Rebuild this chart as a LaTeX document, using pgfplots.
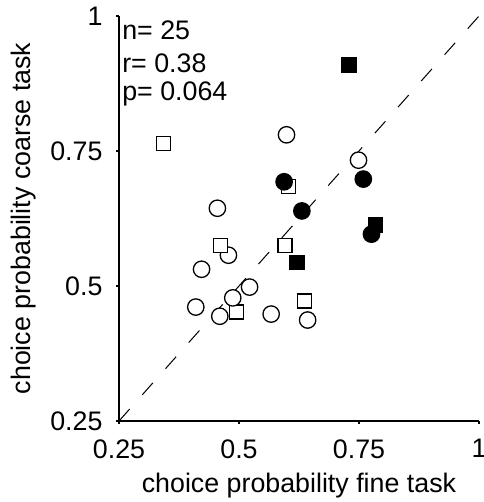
\documentclass[border=0pt]{standalone}
\usepackage{pgfplots}
\pgfplotsset{compat=1.18}
\usepackage{fontspec}
\setmainfont{Liberation Sans}
\begin{document}
\fontsize{13.4}{16}\selectfont
\begin{tikzpicture}
\begin{axis}[
  at={(0,0)}, anchor=south west,
  width=180pt, height=202.5pt, scale only axis,
  xmin=0.25, xmax=1, ymin=0.25, ymax=1,
  axis x line*=bottom, axis y line*=left,
  axis line style={line width=0.8pt, -},
  xtick={0.25,0.5,0.75,1}, ytick={0.25,0.5,0.75,1},
  xticklabels={0.25,0.5,0.75,1}, yticklabels={0.25,0.5,0.75,1},
  tick align=outside, major tick length=1.6pt,
  tick style={black, line width=0.7pt},
  every tick label/.append style={font=\fontsize{13.4}{16}\selectfont},
  xticklabel style={yshift=-3pt},
  yticklabel style={xshift=-2pt},
  /pgf/number format/assume math mode=true,
  xlabel={choice probability fine task},
  ylabel={choice probability coarse task},
  label style={font=\fontsize{13.4}{16}\selectfont},
  xlabel style={yshift=2pt},
  ylabel style={yshift=-2pt},
  clip=false,
]
\addplot[black, line width=0.5pt, dash pattern=on 8pt off 9.5pt] coordinates {(0.25,0.25) (1,1)};
% open circles
\addplot[only marks, mark=*, mark size=4.1pt, mark options={draw=black, fill=white, line width=0.65pt}] coordinates {
(0.599,0.780) (0.749,0.733) (0.455,0.644) (0.478,0.557) (0.422,0.531)
(0.522,0.498) (0.410,0.461) (0.460,0.444) (0.567,0.448) (0.643,0.437)
};
% open squares
\addplot[only marks, mark=square*, mark size=3.5pt, mark options={draw=black, fill=white, line width=0.65pt}] coordinates {
(0.342,0.764) (0.603,0.684) (0.462,0.575) (0.596,0.575) (0.636,0.472) (0.495,0.452)
};
\addplot[only marks, mark=*, mark size=4.1pt, mark options={draw=black, fill=white, line width=0.65pt}] coordinates {
(0.487,0.478)
};
% filled squares
\addplot[only marks, mark=square*, mark size=3.5pt, mark options={draw=black, fill=black, line width=0.65pt}] coordinates {
(0.729,0.909) (0.785,0.613) (0.621,0.544)
};
% filled circles
\addplot[only marks, mark=*, mark size=4.1pt, mark options={draw=black, fill=black, line width=0.65pt}] coordinates {
(0.594,0.693) (0.759,0.698) (0.631,0.639) (0.776,0.596)
};
\node[anchor=west, inner sep=0pt] at (axis cs:0.256,0.973) {n= 25};
\node[anchor=west, inner sep=0pt] at (axis cs:0.256,0.913) {r= 0.38};
\node[anchor=west, inner sep=0pt] at (axis cs:0.256,0.856) {p= 0.064};
\end{axis}
\pgfresetboundingbox
\path[use as bounding box] (-59.5pt,-40.5pt) rectangle (182pt,210.5pt);
\end{tikzpicture}
\end{document}
